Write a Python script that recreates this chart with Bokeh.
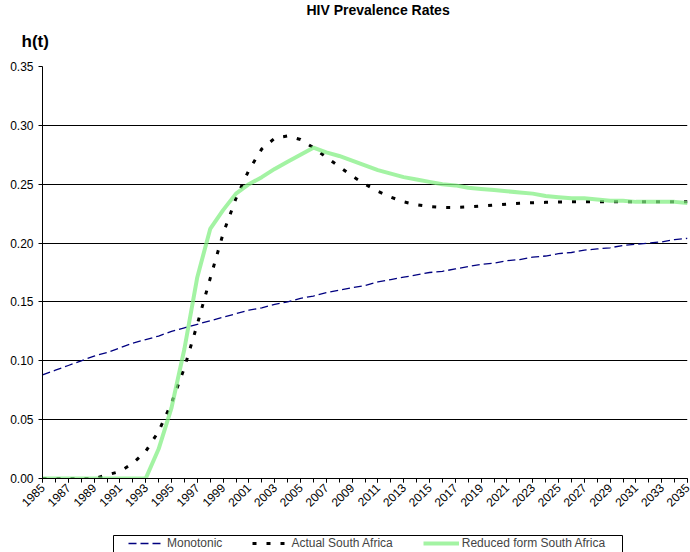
import math
from bokeh.plotting import figure
from bokeh.layouts import column, row
from bokeh.models import (Range1d, FixedTicker, PrintfTickFormatter, Legend, LegendItem,
                          Title, Spacer)
from bokeh.embed import file_html
from bokeh.resources import INLINE

# ---------------- data ----------------
years = list(range(1985, 2036))

monotonic = [0.088, 0.092, 0.096, 0.100, 0.104, 0.107, 0.111, 0.115, 0.118, 0.121,
             0.125, 0.128, 0.131, 0.134, 0.137, 0.140, 0.143, 0.145, 0.148, 0.150,
             0.153, 0.155, 0.158, 0.160, 0.162, 0.164, 0.167, 0.169, 0.171, 0.173,
             0.175, 0.176, 0.178, 0.180, 0.182, 0.183, 0.185, 0.186, 0.188, 0.189,
             0.191, 0.192, 0.194, 0.195, 0.196, 0.198, 0.199, 0.200, 0.201, 0.203,
             0.204]

actual = [0.000, 0.000, 0.000, 0.000, 0.000, 0.003, 0.006, 0.013, 0.023, 0.040,
          0.064, 0.094, 0.131, 0.170, 0.208, 0.238, 0.262, 0.280, 0.289, 0.291,
          0.288, 0.281, 0.273, 0.265, 0.257, 0.250, 0.244, 0.239, 0.235, 0.2325,
          0.231, 0.2303, 0.2302, 0.2307, 0.2315, 0.2323, 0.2331, 0.2338, 0.2343, 0.2346,
          0.2349, 0.235, 0.235, 0.235, 0.235, 0.235, 0.235, 0.235, 0.235, 0.235,
          0.235]

reduced = [0.000, 0.000, 0.000, 0.000, 0.000, 0.000, 0.000, 0.000, 0.000, 0.025,
           0.060, 0.110, 0.171, 0.212, 0.228, 0.242, 0.250, 0.256, 0.263, 0.269,
           0.275, 0.281, 0.277, 0.274, 0.270, 0.266, 0.262, 0.259, 0.256, 0.254,
           0.252, 0.250, 0.249, 0.247, 0.246, 0.245, 0.244, 0.243, 0.242, 0.240,
           0.239, 0.238, 0.238, 0.237, 0.236, 0.236, 0.235, 0.235, 0.235, 0.235,
           0.234]

label_years = list(range(1985, 2036, 2))
y_ticks = [0.00, 0.05, 0.10, 0.15, 0.20, 0.25, 0.30, 0.35]

title_text = "HIV Prevalence Rates"
y_title_text = "h(t)"
series_names = ["Monotonic", "Actual South Africa", "Reduced form South Africa"]

FONT = "Liberation Sans"
MONO_STYLE = dict(line_color="#000080", line_width=1.3, line_dash="8 4")
ACT_STYLE = dict(line_color="black", line_width=3, line_dash="4 10")
RED_STYLE = dict(line_color="#7fef7f", line_alpha=0.72, line_width=4)

# ---------------- main chart ----------------
p = figure(width=690, height=535, output_backend="svg", toolbar_location=None,
           title=None,
           x_range=Range1d(1985, 2035), y_range=Range1d(0, 0.35),
           min_border_left=42, min_border_right=3, min_border_top=66, min_border_bottom=57)
p.outline_line_color = None
p.background_fill_color = "white"
p.border_fill_color = "white"

p.xgrid.visible = False
p.ygrid.ticker = FixedTicker(ticks=y_ticks)
p.ygrid.grid_line_color = "black"
p.ygrid.grid_line_width = 1

# y axis
p.yaxis.ticker = FixedTicker(ticks=y_ticks)
p.yaxis.formatter = PrintfTickFormatter(format="%.2f")
p.yaxis.major_tick_in = 0
p.yaxis.major_tick_out = 4
p.yaxis.minor_tick_out = 0
p.yaxis.minor_tick_in = 0
p.yaxis.major_label_standoff = 5
p.yaxis.axis_line_color = "black"
p.yaxis.major_tick_line_color = "black"
p.yaxis.major_label_text_font = FONT
p.yaxis.major_label_text_font_size = "12px"
p.yaxis.major_label_text_color = "black"

# x axis
p.xaxis.ticker = FixedTicker(ticks=label_years, minor_ticks=years)
p.xaxis.major_tick_in = 0
p.xaxis.major_tick_out = 4
p.xaxis.minor_tick_in = 0
p.xaxis.minor_tick_out = 4
p.xaxis.minor_tick_line_color = "black"
p.xaxis.major_tick_line_color = "black"
p.xaxis.axis_line_color = "black"
p.xaxis.major_label_orientation = math.pi / 4
p.xaxis.major_label_standoff = 3
p.xaxis.major_label_text_font = FONT
p.xaxis.major_label_text_font_size = "12px"
p.xaxis.major_label_text_color = "black"

p.line(years, monotonic, **MONO_STYLE)
p.line(years, actual, **ACT_STYLE)
p.line(years, reduced, **RED_STYLE)

# titles (closest to the plot first)
p.add_layout(Title(text=y_title_text, align="left", offset=-21, standoff=31,
                   text_font=FONT, text_font_size="17px", text_font_style="bold",
                   text_color="black"), "above")
p.add_layout(Title(text=title_text, align="left", offset=264, standoff=-7,
                   text_font=FONT, text_font_size="14px", text_font_style="bold",
                   text_color="black"), "above")

# ---------------- legend strip ----------------
# the strip's ranges exclude the data, so only the legend samples are visible
lg = figure(width=510, height=18, output_backend="svg", toolbar_location=None,
            x_range=Range1d(0, 1), y_range=Range1d(0, 1),
            x_axis_location=None, y_axis_location=None, min_border=0)
lg.xgrid.visible = False
lg.ygrid.visible = False
lg.outline_line_color = "black"
lg.outline_line_width = 1
lg.border_fill_color = "white"
lg.background_fill_color = "white"

l1 = lg.line(years, monotonic, **MONO_STYLE)
l2 = lg.line(years, actual, **ACT_STYLE)
l3 = lg.line(years, reduced, **RED_STYLE)

legend = Legend(items=[LegendItem(label=series_names[0], renderers=[l1]),
                       LegendItem(label=series_names[1], renderers=[l2]),
                       LegendItem(label=series_names[2], renderers=[l3])],
                orientation="horizontal", location=(15, 3),
                padding=0, spacing=30, glyph_width=36, glyph_height=14,
                label_height=14, label_standoff=3,
                label_text_font=FONT, label_text_font_size="12px",
                border_line_color=None, background_fill_alpha=0, margin=0)
lg.add_layout(legend, "center")

layout = column(p, row(Spacer(width=113, height=18), lg))

open("out.html", "w").write(file_html(layout, INLINE))
